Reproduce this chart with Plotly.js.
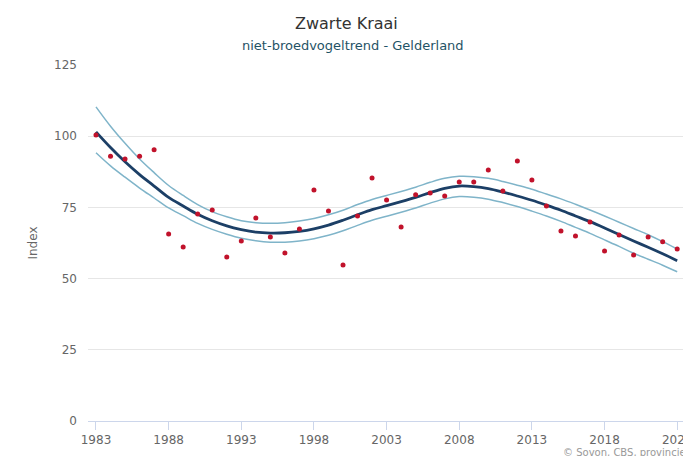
<!DOCTYPE html>
<html>
<head>
<meta charset="utf-8">
<script src="https://cdn.plot.ly/plotly-3.0.1.min.js"></script>
<style>html,body{margin:0;padding:0;background:#fff;overflow:hidden;}#chart{width:683px;height:456px;}</style>
</head>
<body>
<div id="chart"></div>
<script>
const years = [1983,1984,1985,1986,1987,1988,1989,1990,1991,1992,1993,1994,1995,1996,1997,1998,1999,2000,2001,2002,2003,2004,2005,2006,2007,2008,2009,2010,2011,2012,2013,2014,2015,2016,2017,2018,2019,2020,2021,2022,2023];
const observed = [100.4,93.0,92.0,93.0,95.2,65.7,61.1,72.7,74.1,57.6,63.2,71.3,64.6,59.0,67.4,81.1,73.7,54.8,72.0,85.3,77.6,68.1,79.4,80.1,79.0,83.9,83.9,88.1,80.8,91.3,84.6,75.5,66.7,65.0,69.9,59.7,65.3,58.3,64.6,62.9,60.4];
const trend = [101.5,96.0,91.0,86.5,82.5,78.5,75.5,72.6,70.3,68.5,67.2,66.3,66.0,66.1,66.6,67.5,68.8,70.5,72.4,74.2,75.6,77.0,78.5,80.2,81.7,82.5,82.3,81.6,80.4,79.0,77.5,75.8,74.0,72.0,70.0,67.8,65.5,63.2,61.0,58.7,56.3];
const upper = [110.3,103.5,97.5,92.0,87.2,82.7,79.2,76.0,73.5,71.7,70.3,69.6,69.4,69.6,70.2,71.1,72.4,74.0,76.0,77.8,79.2,80.6,82.1,83.8,85.2,85.9,85.8,85.2,84.1,82.8,81.4,79.7,78.0,76.1,74.1,72.0,69.8,67.6,65.4,63.0,60.4];
const lower = [94.2,89.6,85.6,81.8,78.3,74.8,72.1,69.4,67.3,65.6,64.2,63.3,62.8,62.8,63.2,64.0,65.2,66.8,68.7,70.5,71.9,73.3,74.8,76.5,78.0,78.8,78.6,77.9,76.7,75.3,73.7,72.0,70.1,68.0,65.9,63.6,61.3,58.9,56.8,54.7,52.4];
const xTicks = [1983,1988,1993,1998,2003,2008,2013,2018,2023];
const yTicks = [0,25,50,75,100,125];

const font = "'DejaVu Sans', 'Lucida Grande', sans-serif";
const traces = [
  {x: years, y: upper, mode: 'lines', line: {color: '#7fb4c9', width: 1.5, shape: 'spline'}, hoverinfo: 'skip'},
  {x: years, y: lower, mode: 'lines', line: {color: '#7fb4c9', width: 1.5, shape: 'spline'}, hoverinfo: 'skip'},
  {x: years, y: trend, mode: 'lines', line: {color: '#1c3f66', width: 2.8, shape: 'spline'}},
  {x: years, y: observed, mode: 'markers', marker: {color: '#c1122b', size: 5}}
];
const layout = {
  width: 683, height: 456,
  margin: {l: 88, r: 0, t: 65, b: 35},
  showlegend: false,
  paper_bgcolor: '#ffffff', plot_bgcolor: '#ffffff',
  font: {family: font, color: '#666666', size: 12},
  xaxis: {
    range: [1982.45, 2023.4],
    tickvals: xTicks, ticktext: xTicks.map(String),
    showgrid: false, zeroline: false,
    showline: true, linecolor: '#ccd6eb', linewidth: 1,
    ticks: 'outside', ticklen: 8, tickcolor: '#ccd6eb',
    ticklabeloverflow: 'allow',
    tickfont: {size: 12, color: '#666666'}
  },
  yaxis: {
    range: [0, 125],
    tickvals: yTicks, ticktext: yTicks.map(String),
    showgrid: true, gridcolor: '#e6e6e6', zeroline: false,
    showline: false, ticks: '', ticklabelstandoff: 10,
    tickfont: {size: 12, color: '#666666'},
    title: {text: 'Index', font: {size: 12, color: '#666666'}, standoff: 13}
  },
  annotations: [
    {text: 'Zwarte Kraai', xref: 'paper', yref: 'paper', x: (346-88)/595, y: 1 + (65-23)/356, xanchor: 'center', yanchor: 'middle', showarrow: false, font: {size: 16, color: '#333333', family: font}},
    {text: 'niet-broedvogeltrend - Gelderland', xref: 'paper', yref: 'paper', x: (353-88)/595, y: 1 + (65-45)/356, xanchor: 'center', yanchor: 'middle', showarrow: false, font: {size: 13, color: '#1f5366', family: font}},
    {text: '© Sovon, CBS, provincies', xref: 'paper', yref: 'paper', x: (561-88)/595, y: -(452-421)/356, xanchor: 'left', yanchor: 'middle', showarrow: false, font: {size: 10, color: '#999999', family: font}}
  ]
};
Plotly.newPlot('chart', traces, layout, {displayModeBar: false, staticPlot: true});
</script>
</body>
</html>
